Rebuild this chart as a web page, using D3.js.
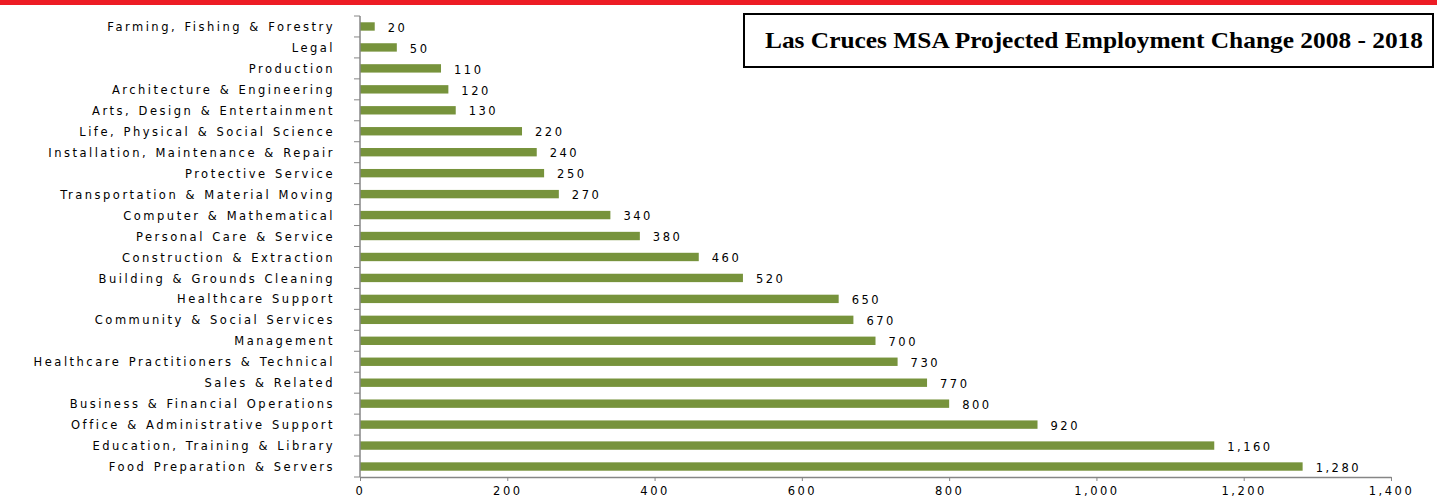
<!DOCTYPE html>
<html>
<head>
<meta charset="utf-8">
<script src="https://cdn.jsdelivr.net/npm/d3@7"></script>
<style>
  body { margin: 0; background: #fff; }
  svg { display: block; }
  .lbl { font-family: "DejaVu Sans", sans-serif; font-size: 11.5px; letter-spacing: 2.5px; word-spacing: 1.2px; fill: #000; }
</style>
</head>
<body>
<div id="chart"></div>
<script>
const categories = [
    'Farming, Fishing & Forestry', 'Legal', 'Production', 'Architecture & Engineering',
    'Arts, Design & Entertainment', 'Life, Physical & Social Science',
    'Installation, Maintenance & Repair', 'Protective Service',
    'Transportation & Material Moving', 'Computer & Mathematical',
    'Personal Care & Service', 'Construction & Extraction',
    'Building & Grounds Cleaning', 'Healthcare Support', 'Community & Social Services',
    'Management', 'Healthcare Practitioners & Technical', 'Sales & Related',
    'Business & Financial Operations', 'Office & Administrative Support',
    'Education, Training & Library', 'Food Preparation & Servers'
];
const values = [20, 50, 110, 120, 130, 220, 240, 250, 270, 340, 380, 460, 520, 650, 670, 700, 730, 770, 800, 920, 1160, 1280];
const xTicks = [0, 200, 400, 600, 800, 1000, 1200, 1400];
const title = 'Las Cruces MSA Projected Employment Change 2008 - 2018';

const width = 1437, height = 498;
const svg = d3.select('#chart')
    .append('svg')
    .attr('width', width)
    .attr('height', height);

// red strip along the top
svg.append('rect')
    .attr('x', 0).attr('y', 0)
    .attr('width', width).attr('height', 5)
    .attr('fill', '#ed1c24');

const x = d3.scaleLinear().domain([0, 1400]).range([360, 1391]);
const y = d3.scaleBand().domain(categories).range([16, 477]).paddingInner(0.6).paddingOuter(0.3);

const data = categories.map((c, i) => ({ name: c, value: values[i] }));

// bars
svg.append('g')
    .selectAll('rect')
    .data(data)
    .enter().append('rect')
    .attr('x', x(0))
    .attr('y', d => y(d.name))
    .attr('width', d => x(d.value) - x(0))
    .attr('height', y.bandwidth())
    .attr('fill', '#77933c');

// value labels
svg.append('g')
    .selectAll('text')
    .data(data)
    .enter().append('text')
    .attr('class', 'lbl')
    .attr('x', d => x(d.value) + 13)
    .attr('y', d => y(d.name) + y.bandwidth() / 2)
    .attr('dy', '0.45em')
    .text(d => d3.format(',')(d.value));

// y axis
const yAxis = svg.append('g')
    .attr('transform', `translate(${x(0)},0)`)
    .call(d3.axisLeft(y).tickSize(0).tickPadding(25));
yAxis.select('.domain').remove();
yAxis.selectAll('text').attr('class', 'lbl').attr('font-family', null).attr('font-size', null).attr('dy', '0.4em');

// y ticks sit between the bands
const [y0, y1] = y.range();
const bounds = d3.range(categories.length + 1).map(i => y0 + i * (y1 - y0) / categories.length);
svg.append('g')
    .selectAll('line')
    .data(bounds)
    .enter().append('line')
    .attr('x1', x(0) - 6).attr('x2', x(0))
    .attr('y1', d => d).attr('y2', d => d)
    .attr('stroke', '#868686');
svg.append('line')
    .attr('x1', x(0)).attr('x2', x(0))
    .attr('y1', y0).attr('y2', y1)
    .attr('stroke', '#868686').attr('stroke-width', 1.5);

// x axis
const xAxis = svg.append('g')
    .attr('transform', `translate(0,${y1})`)
    .call(d3.axisBottom(x).tickValues(xTicks).tickFormat(d3.format(',')).tickSize(4).tickPadding(6).tickSizeOuter(0));
xAxis.select('.domain').attr('stroke', '#868686').attr('stroke-width', 1.5);
xAxis.selectAll('.tick line').attr('stroke', '#868686');
xAxis.selectAll('text').attr('class', 'lbl').attr('font-family', null).attr('font-size', null).attr('dy', '0.68em');

// title box
svg.append('rect')
    .attr('x', 744).attr('y', 14)
    .attr('width', 689).attr('height', 53)
    .attr('fill', '#fff')
    .attr('stroke', '#000').attr('stroke-width', 2);
svg.append('text')
    .attr('x', 765).attr('y', 48)
    .attr('font-family', '"Liberation Serif", serif')
    .attr('font-weight', 'bold')
    .attr('font-size', 24)
    .attr('textLength', 658)
    .attr('lengthAdjust', 'spacingAndGlyphs')
    .text(title);
</script>
</body>
</html>
